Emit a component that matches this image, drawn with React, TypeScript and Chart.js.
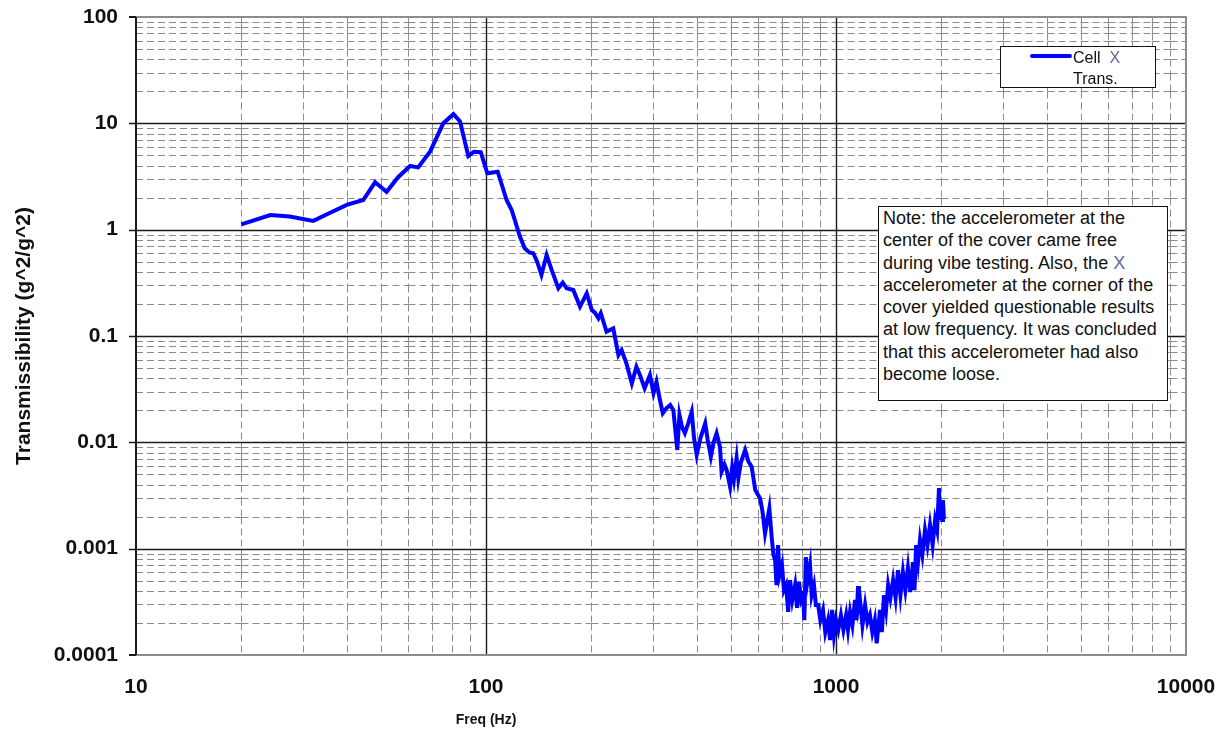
import React, { useEffect, useRef } from 'react';
import { Chart, registerables } from 'chart.js';

Chart.register(...registerables);

const FONT = '"Liberation Sans", Arial, Helvetica, sans-serif';

// Cell X transmissibility vs. frequency
const freqHz = [
  20, 24.2, 27.5, 32.1, 36, 40, 44.6, 48.2, 52, 56,
  60.7, 64, 69.2, 75.5, 80.7, 84.3, 89, 92.4, 96.6, 100.9,
  108, 114.5, 118.4, 125, 129, 133, 136.5, 140, 144, 149,
  154, 161, 165.7, 170, 177.6, 185.6, 194, 200.6, 205, 209.5,
  212.8, 221, 231, 239, 244, 252, 261, 269, 276, 284,
  294, 301, 307, 314, 320, 328, 336, 343, 352, 357,
  363, 370, 378, 387, 393, 400, 410, 423, 430, 439,
  447, 456, 466, 471, 480, 487, 498, 505, 511, 520,
  526, 535, 550, 562, 574, 588, 607, 617, 627, 645,
  656, 663, 670, 676, 683, 690, 701, 710, 720, 730,
  739, 750, 764, 774, 784, 795, 805, 812, 820, 830,
  843, 852, 865, 876, 889, 902, 918, 932, 949, 962,
  975, 987, 1000, 1015, 1033, 1050, 1069, 1082, 1097, 1114,
  1133, 1145, 1156, 1163, 1171, 1190, 1211, 1230, 1250, 1270,
  1291, 1307, 1336, 1352, 1371, 1390, 1409, 1430, 1456, 1480,
  1504, 1528, 1553, 1578, 1605, 1630, 1659, 1676, 1694, 1715,
  1738, 1765, 1796, 1825, 1856, 1888, 1919, 1945, 1969, 1980,
  1995, 2010, 2021, 2034,
];

const transmissibility = [
  1.12, 1.37, 1.33, 1.21, 1.45, 1.71, 1.9, 2.79, 2.27, 3.1,
  3.97, 3.85, 5.41, 10.0, 12.2, 10.4, 4.93, 5.41, 5.35, 3.39,
  3.51, 1.9, 1.53, 0.86, 0.668, 0.61, 0.6, 0.5, 0.375, 0.578,
  0.418, 0.281, 0.317, 0.281, 0.271, 0.189, 0.252, 0.175, 0.165, 0.147,
  0.164, 0.11, 0.118, 0.0662, 0.0738, 0.055, 0.0359, 0.0514, 0.042, 0.0322,
  0.043, 0.0289, 0.0371, 0.025, 0.0188, 0.021, 0.0224, 0.0201, 0.00847, 0.0181,
  0.014, 0.0122, 0.015, 0.0194, 0.011, 0.0076, 0.011, 0.0151, 0.0105, 0.00733,
  0.01, 0.0122, 0.0091, 0.0053, 0.0062, 0.0055, 0.00383, 0.0058, 0.0045, 0.00708,
  0.0046, 0.0065, 0.00847, 0.0066, 0.0059, 0.00356, 0.00297, 0.0022, 0.00139, 0.00239,
  0.00121, 0.000871, 0.000781, 0.000455, 0.00108, 0.000565, 0.000701, 0.000408, 0.000455, 0.000254,
  0.000507, 0.000329, 0.000455, 0.000277, 0.000485, 0.000329, 0.000366, 0.000213, 0.000834, 0.000507,
  0.000701, 0.000366, 0.000455, 0.000295, 0.000295, 0.000213, 0.000265, 0.000164, 0.000213, 0.000138,
  0.000265, 0.000154, 0.000213, 0.000172, 0.000238, 0.000172, 0.000238, 0.000172, 0.000254, 0.000191,
  0.000329, 0.000213, 0.000445, 0.000295, 0.000329, 0.000191, 0.000295, 0.000204, 0.000238, 0.000164,
  0.000213, 0.000129, 0.000265, 0.000164, 0.000366, 0.000265, 0.000455, 0.000343, 0.000507, 0.000343,
  0.000629, 0.000366, 0.000603, 0.000408, 0.000657, 0.000391, 0.000748, 0.000408, 0.00108, 0.000748,
  0.00121, 0.000871, 0.0015, 0.00108, 0.00167, 0.00108, 0.00186, 0.0015, 0.00372, 0.00186,
  0.00286, 0.00186, 0.00286, 0.0019,
];

const xTickLabels = ['10', '100', '1000', '10000'];
const yTickLabels = ['0.0001', '0.001', '0.01', '0.1', '1', '10', '100'];
const xTitle = 'Freq (Hz)';
const yTitle = 'Transmissibility (g^2/g^2)';
const legendLines = ['Cell  X', 'Trans.'];
const noteLines = [
  'Note: the accelerometer at the',
  'center of the cover came free',
  'during vibe testing. Also, the X',
  'accelerometer at the corner of the',
  'cover yielded questionable results',
  'at low frequency. It was concluded',
  'that this accelerometer had also',
  'become loose.',
];

const X_MIN_EXP = 1;
const X_MAX_EXP = 4;
const Y_MIN_EXP = -4;
const Y_MAX_EXP = 2;

const decadeLabel = (labels: string[], minExp: number) => (value: number | string) => {
  const e = Math.log10(Number(value));
  const r = Math.round(e);
  return Math.abs(e - r) < 1e-6 ? labels[r - minExp] ?? '' : '';
};

// Excel-style log grid: dashed minor lines restarting at every crossing,
// solid decade lines, gray frame with a dark value axis.
const gridPlugin = {
  id: 'logGrid',
  beforeDatasetsDraw(chart: any) {
    const { ctx, chartArea, scales } = chart;
    const { left, right, top, bottom } = chartArea;
    const xs = scales.x;
    const ys = scales.y;
    const xMinor: number[] = [];
    const xMajor: number[] = [];
    for (let e = X_MIN_EXP; e < X_MAX_EXP; e++) {
      const d = Math.pow(10, e);
      for (let k = 2; k <= 9; k++) xMinor.push(Math.round(xs.getPixelForValue(k * d)) + 0.5);
      if (e + 1 < X_MAX_EXP) xMajor.push(Math.round(xs.getPixelForValue(10 * d)) + 0.5);
    }
    const yMinor: number[] = [];
    const yMajor: number[] = [];
    for (let e = Y_MIN_EXP; e < Y_MAX_EXP; e++) {
      const d = Math.pow(10, e);
      for (let k = 2; k <= 9; k++) yMinor.push(Math.round(ys.getPixelForValue(k * d)) + 0.5);
      if (e + 1 < Y_MAX_EXP) yMajor.push(Math.round(ys.getPixelForValue(10 * d)) + 0.5);
    }
    const xStops = [left, ...xMinor, ...xMajor, right].sort((a, b) => a - b);
    const yStops = [top, ...yMinor, ...yMajor, bottom].sort((a, b) => a - b);

    ctx.save();
    ctx.lineWidth = 1;
    ctx.strokeStyle = '#8c8c8c';
    ctx.setLineDash([7, 4]);
    for (const py of yMinor) {
      for (let i = 0; i < xStops.length - 1; i++) {
        ctx.beginPath();
        ctx.moveTo(xStops[i], py);
        ctx.lineTo(xStops[i + 1], py);
        ctx.stroke();
      }
    }
    for (const px of xMinor) {
      for (let j = 0; j < yStops.length - 1; j++) {
        ctx.beginPath();
        ctx.moveTo(px, yStops[j]);
        ctx.lineTo(px, yStops[j + 1]);
        ctx.stroke();
      }
    }
    ctx.setLineDash([]);
    ctx.strokeStyle = '#1a1a1a';
    ctx.lineWidth = 1.4;
    for (const py of yMajor) {
      ctx.beginPath();
      ctx.moveTo(left - 7, py);
      ctx.lineTo(right, py);
      ctx.stroke();
    }
    for (const px of xMajor) {
      ctx.beginPath();
      ctx.moveTo(px, top);
      ctx.lineTo(px, bottom);
      ctx.stroke();
    }
    // frame
    ctx.strokeStyle = '#8c8c8c';
    ctx.lineWidth = 2;
    ctx.beginPath();
    ctx.moveTo(left, top);
    ctx.lineTo(right, top);
    ctx.lineTo(right, bottom);
    ctx.lineTo(left, bottom);
    ctx.stroke();
    ctx.strokeStyle = '#1a1a1a';
    ctx.beginPath();
    ctx.moveTo(left, top);
    ctx.lineTo(left, bottom);
    ctx.moveTo(left - 7, top);
    ctx.lineTo(left, top);
    ctx.moveTo(left - 7, bottom);
    ctx.lineTo(left, bottom);
    ctx.stroke();
    ctx.restore();
  },
  afterDraw(chart: any) {
    const { ctx } = chart;
    ctx.save();
    ctx.fillStyle = '#111';
    ctx.font = `bold 14px ${FONT}`;
    ctx.textAlign = 'center';
    ctx.textBaseline = 'middle';
    ctx.fillText(xTitle, 486, 720);
    ctx.restore();
  },
};

function withMarkedX(line: string) {
  const parts = line.split(/(\bX\b)/);
  return parts.map((p, i) =>
    p === 'X' ? (
      <span key={i} style={{ color: '#5d68a3' }}>
        {p}
      </span>
    ) : (
      <span key={i}>{p}</span>
    )
  );
}

export default function App() {
  const canvasRef = useRef<HTMLCanvasElement>(null);

  useEffect(() => {
    document.body.style.margin = '0';
    const canvas = canvasRef.current;
    if (!canvas) return;
    const chart = new Chart(canvas, {
      type: 'line',
      data: {
        datasets: [
          {
            label: legendLines.join(' '),
            data: freqHz.map((f, i) => ({ x: f, y: transmissibility[i] })),
            borderColor: '#0000ff',
            backgroundColor: '#0000ff',
            borderWidth: 4,
            pointRadius: 0,
            tension: 0,
            fill: false,
          },
        ],
      },
      options: {
        responsive: false,
        animation: false,
        events: [],
        layout: { padding: { left: 0, top: 17, right: 44, bottom: 0 } },
        plugins: {
          legend: { display: false },
          tooltip: { enabled: false },
        },
        scales: {
          x: {
            type: 'logarithmic',
            min: Math.pow(10, X_MIN_EXP),
            max: Math.pow(10, X_MAX_EXP),
            grid: { display: false, drawTicks: false },
            border: { display: false },
            ticks: {
              autoSkip: false,
              maxRotation: 0,
              padding: 20,
              color: '#111',
              font: { family: FONT, size: 21, weight: 'bold' },
              callback: decadeLabel(xTickLabels, X_MIN_EXP),
            },
            afterFit: (scale: any) => {
              scale.height = 83;
              scale.paddingLeft = 0;
              scale.paddingRight = 0;
            },
          },
          y: {
            type: 'logarithmic',
            min: Math.pow(10, Y_MIN_EXP),
            max: Math.pow(10, Y_MAX_EXP),
            grid: { display: false, drawTicks: false },
            border: { display: false },
            ticks: {
              autoSkip: false,
              padding: 18,
              color: '#111',
              font: { family: FONT, size: 21, weight: 'bold' },
              callback: decadeLabel(yTickLabels, Y_MIN_EXP),
            },
            title: {
              display: true,
              text: yTitle,
              color: '#111',
              font: { family: FONT, size: 21, weight: 'bold' },
              padding: { top: 12, bottom: 0 },
            },
            afterFit: (scale: any) => {
              scale.width = 136;
              scale.paddingTop = 0;
              scale.paddingBottom = 0;
            },
          },
        },
      },
      plugins: [gridPlugin],
    } as any);
    return () => chart.destroy();
  }, []);

  return (
    <div style={{ position: 'relative', width: 1230, height: 738, background: '#fff', fontFamily: FONT, color: '#111' }}>
      <canvas ref={canvasRef} width={1230} height={738} style={{ position: 'absolute', left: 0, top: 0 }} />
      <div
        style={{
          position: 'absolute',
          left: 1000,
          top: 46,
          width: 156,
          height: 42,
          boxSizing: 'border-box',
          border: '1.5px solid #111',
          background: '#fff',
        }}
      />
      <div style={{ position: 'absolute', left: 1030, top: 54, width: 42, height: 4, background: '#0000ff', borderRadius: 2 }} />
      <div style={{ position: 'absolute', left: 1073, top: 47, fontSize: 16, lineHeight: '21px', whiteSpace: 'pre' }}>
        {legendLines.map((l, i) => (
          <div key={i}>{withMarkedX(l)}</div>
        ))}
      </div>
      <div
        style={{
          position: 'absolute',
          left: 878,
          top: 206,
          width: 290,
          height: 195,
          boxSizing: 'border-box',
          border: '1.5px solid #111',
          background: '#fff',
        }}
      />
      <div style={{ position: 'absolute', left: 883, top: 207, fontSize: 18, lineHeight: '22.25px', whiteSpace: 'pre' }}>
        {noteLines.map((l, i) => (
          <div key={i}>{withMarkedX(l)}</div>
        ))}
      </div>
    </div>
  );
}
